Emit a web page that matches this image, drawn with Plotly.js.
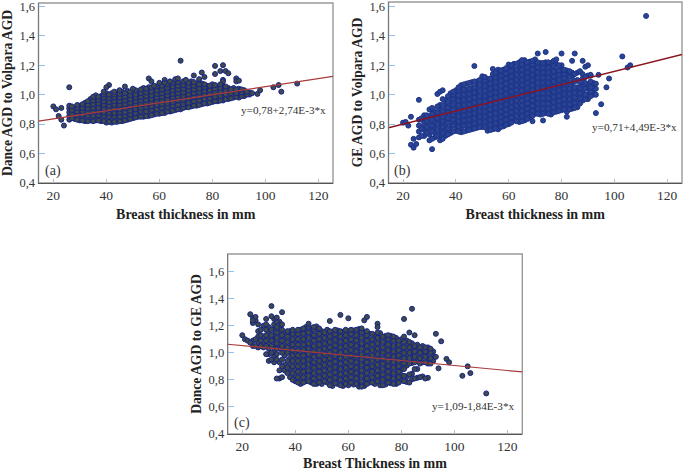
<!DOCTYPE html>
<html><head><meta charset="utf-8">
<script src="https://cdn.plot.ly/plotly-3.0.1.min.js"></script>
<style>html,body{margin:0;padding:0;background:#fff}#g{width:685px;height:471px}</style></head>
<body><div id="g"></div>
<script>
// Panel (a): Dance AGD to Volpara AGD, read as columns of thickness -> ratios
const a_thickness=[26,28,30,32,34,36,38,40,42,44,46,48,50,52,54,56,58,60,62,64,66,68,70,72,74,76,78,80,82,84,86,88,90,92,94];
const a_ratio=[
[.83,.855,.88,.905,.925],
[.835,.86,.885,.91],
[.825,.85,.875,.90,.925],
[.82,.845,.87,.895,.92,.945],
[.825,.85,.875,.90,.925,.95,.97],
[.825,.85,.875,.90,.925,.95,.975,.995],
[.82,.845,.87,.895,.92,.945,.97,.99],
[.81,.835,.86,.885,.91,.935,.96,.985,1.01],
[.81,.84,.865,.89,.915,.94,.965,.99,1.01],
[.815,.84,.865,.89,.915,.94,.965,.99,1.015],
[.82,.845,.87,.895,.92,.945,.97,.995,1.02],
[.83,.855,.88,.905,.93,.955,.98,1.005,1.025],
[.84,.865,.89,.915,.94,.965,.99,1.015],
[.85,.875,.90,.925,.95,.975,1.0,1.02],
[.85,.875,.90,.925,.95,.975,1.0,1.025,1.045],
[.855,.88,.905,.93,.955,.98,1.005,1.03,1.05],
[.865,.89,.915,.94,.965,.99,1.015,1.04],
[.87,.895,.92,.945,.97,.995,1.02,1.045,1.06],
[.875,.90,.925,.95,.975,1.0,1.025,1.05,1.07],
[.885,.91,.935,.96,.985,1.01,1.035,1.06,1.08],
[.895,.92,.945,.97,.995,1.02,1.045,1.07,1.085],
[.90,.925,.95,.975,1.0,1.025,1.05,1.075],
[.915,.94,.965,.99,1.015,1.04,1.065,1.085],
[.92,.945,.97,.995,1.02,1.045,1.07,1.09],
[.925,.95,.975,1.0,1.025,1.05,1.075],
[.935,.96,.985,1.01,1.035,1.06,1.075],
[.94,.965,.99,1.015,1.04,1.06],
[.95,.975,1.0,1.025,1.05,1.07],
[.955,.98,1.005,1.03,1.055],
[.96,.985,1.01,1.035,1.06],
[.97,.995,1.02,1.045],
[.98,1.0,1.025,1.045],
[.98,1.0,1.02,1.04],
[.99,1.01,1.03],
[1.0,1.015]];
const a_thickness_odd=[27,29,31,33,35,37,39,41,43,45,47,49,51,53,55,57,59,61,63,65,67,69,71,73,75,77,79,81,83,85,87,89,91,93];
const a_ratio_odd=[
[.84,.87,.895,.92],
[.83,.86,.885,.91,.93],
[.825,.86,.885,.91,.935],
[.82,.855,.88,.905,.93,.955],
[.82,.855,.885,.91,.935,.96,.985],
[.825,.86,.885,.91,.94,.965,.985],
[.82,.855,.88,.905,.93,.955,.98,1.0],
[.815,.85,.875,.90,.925,.95,.975,1.0],
[.815,.85,.875,.905,.93,.955,.98,1.0,1.02],
[.82,.85,.88,.90,.93,.955,.98,1.005,1.03],
[.825,.855,.88,.91,.935,.96,.985,1.01],
[.835,.865,.89,.92,.945,.97,.995,1.02],
[.845,.875,.90,.93,.955,.98,1.0,1.03],
[.85,.885,.91,.935,.96,.985,1.01,1.035],
[.855,.885,.915,.94,.965,.99,1.015,1.04],
[.86,.895,.92,.945,.97,.995,1.02,1.05],
[.87,.90,.93,.955,.98,1.005,1.03,1.055],
[.875,.91,.935,.96,.985,1.01,1.035,1.06],
[.885,.915,.94,.97,.995,1.02,1.045,1.07],
[.89,.925,.95,.98,1.005,1.03,1.055,1.08],
[.90,.93,.96,.985,1.01,1.035,1.06,1.085],
[.91,.935,.965,.99,1.015,1.04,1.065,1.09],
[.915,.945,.975,1.0,1.03,1.055,1.08],
[.925,.955,.985,1.01,1.035,1.06,1.085],
[.93,.96,.99,1.015,1.04,1.07],
[.94,.97,1.0,1.025,1.05,1.07],
[.945,.975,1.005,1.03,1.06],
[.955,.985,1.015,1.04,1.065],
[.96,.99,1.02,1.045],
[.97,1.0,1.03,1.055],
[.975,1.01,1.035],
[.985,1.01,1.035],
[.99,1.015,1.035],
[1.0,1.02]];
const a_out_x=[20,21,23,23,24,22,26,41,40,39,47,50,56,57,58,62,62,66,67,68,70,73,75,76,77,81,81,83,84,84,85,86,89,89,90,95,97,98,103,105,106,112,64,60,84,83];
const a_out_y=[.92,.90,.91,.83,.79,.855,1.05,1.065,1.05,1.02,1.055,1.04,1.11,1.09,1.06,1.10,1.08,1.105,1.11,1.23,1.10,1.13,1.105,1.15,1.12,1.195,1.14,1.16,1.20,1.10,1.16,1.145,1.11,1.09,1.095,1.01,1.005,1.03,1.05,1.065,1.02,1.075,1.09,1.08,1.09,1.07];
const a_fit=[0.78,0.00274];

// Panel (b): GE AGD to Volpara AGD
const b_thickness=[26,28,30,32,34,36,38,40,42,44,46,48,50,52,54,56,58,60,62,64,66,68,70,72,74,76,78,80,82,84,86,88,90,92];
const b_ratio=[
[.71,.75,.79,.83],
[.72,.76,.80,.84,.86],
[.69,.73,.77,.81,.85,.90],
[.71,.745,.78,.815,.85,.885],
[.69,.725,.76,.795,.83,.865,.90,.93],
[.72,.755,.79,.825,.86,.895,.93,.965],
[.74,.775,.81,.845,.88,.915,.95,.985,1.01],
[.755,.79,.825,.86,.895,.93,.965,1.0,1.03],
[.745,.78,.815,.85,.885,.92,.955,.99,1.025,1.065],
[.755,.79,.825,.86,.895,.93,.965,1.0,1.035,1.075],
[.765,.80,.835,.87,.905,.94,.975,1.01,1.045,1.085],
[.775,.81,.845,.88,.915,.95,.985,1.02,1.055,1.09],
[.78,.815,.85,.885,.92,.955,.99,1.025,1.06,1.095,1.125],
[.755,.79,.825,.86,.895,.93,.965,1.0,1.035,1.07,1.105],
[.765,.80,.835,.87,.905,.94,.975,1.01,1.045,1.08,1.115,1.14],
[.765,.80,.835,.87,.905,.94,.975,1.01,1.045,1.08,1.115,1.15,1.17],
[.785,.82,.855,.89,.925,.96,.995,1.03,1.065,1.10,1.135,1.17],
[.80,.835,.87,.905,.94,.975,1.01,1.045,1.08,1.115,1.15,1.185,1.205],
[.825,.86,.895,.93,.965,1.0,1.035,1.07,1.105,1.14,1.175,1.21],
[.815,.85,.885,.92,.955,.99,1.025,1.06,1.095,1.13,1.165,1.20,1.22],
[.825,.86,.895,.93,.965,1.0,1.035,1.07,1.105,1.14,1.175,1.21,1.235],
[.845,.88,.915,.95,.985,1.02,1.055,1.09,1.125,1.16,1.195,1.225],
[.87,.905,.94,.975,1.01,1.045,1.08,1.115,1.15,1.185,1.22,1.24],
[.865,.90,.935,.97,1.005,1.04,1.075,1.11,1.145,1.18,1.215],
[.875,.91,.945,.98,1.015,1.05,1.085,1.12,1.155,1.19,1.22],
[.865,.90,.935,.97,1.005,1.04,1.075,1.11,1.145,1.18,1.215],
[.885,.92,.955,.99,1.025,1.06,1.095,1.13,1.165,1.205],
[.895,.93,.965,1.0,1.035,1.07,1.105,1.14,1.17,1.20],
[.885,.92,.955,.99,1.025,1.06,1.09,1.135,1.165],
[.905,.94,.975,1.01,1.045,1.08,1.12,1.15],
[.915,.95,.985,1.02,1.05,1.10,1.15],
[.96,.995,1.03,1.06,1.11,1.14],
[.97,1.0,1.04,1.07,1.13],
[1.0,1.03,1.06,1.08]];
const b_thickness_odd=[27,29,31,33,35,37,39,41,43,45,47,49,51,53,55,57,59,61,63,65,67,69,71,73,75,77,79,81,83,85,87,89,91,93];
const b_ratio_odd=[
[.72,.77,.83],
[.74,.78,.82,.86],
[.70,.75,.79,.83,.87,.91],
[.72,.76,.80,.84,.88,.92],
[.70,.74,.78,.82,.85,.89,.93,.97],
[.73,.77,.81,.84,.88,.91,.95,.99],
[.75,.79,.83,.86,.90,.93,.97,1.0,1.02],
[.75,.785,.82,.855,.89,.925,.96,.995,1.03,1.05],
[.75,.79,.825,.86,.895,.93,.965,1.0,1.035,1.07],
[.76,.795,.83,.865,.90,.935,.97,1.005,1.04,1.08],
[.77,.805,.84,.875,.91,.945,.98,1.015,1.05,1.09],
[.78,.815,.85,.885,.92,.955,.99,1.025,1.06,1.10],
[.78,.815,.85,.885,.92,.955,.99,1.025,1.06,1.095,1.12],
[.76,.795,.83,.865,.90,.935,.97,1.005,1.04,1.075,1.11],
[.77,.805,.84,.875,.91,.945,.98,1.015,1.05,1.085,1.12,1.15],
[.78,.815,.85,.885,.92,.955,.99,1.025,1.06,1.095,1.13,1.165],
[.795,.83,.865,.90,.935,.97,1.005,1.04,1.075,1.11,1.145,1.18],
[.81,.845,.88,.915,.95,.985,1.02,1.055,1.09,1.125,1.16,1.20],
[.82,.855,.89,.925,.96,.995,1.03,1.065,1.10,1.135,1.17,1.21],
[.82,.855,.89,.925,.96,.995,1.03,1.065,1.10,1.135,1.17,1.205,1.235],
[.835,.87,.905,.94,.975,1.01,1.045,1.08,1.115,1.15,1.185,1.22],
[.855,.89,.925,.96,.995,1.03,1.065,1.10,1.135,1.17,1.205,1.23],
[.87,.905,.94,.975,1.01,1.045,1.08,1.115,1.15,1.185,1.22],
[.87,.905,.94,.975,1.01,1.045,1.08,1.115,1.15,1.185,1.215],
[.87,.905,.94,.975,1.01,1.045,1.08,1.115,1.15,1.185,1.22],
[.88,.915,.95,.985,1.02,1.055,1.09,1.125,1.16,1.195,1.23],
[.89,.925,.96,.995,1.03,1.065,1.10,1.135,1.165,1.20],
[.90,.935,.97,1.005,1.04,1.075,1.11,1.14,1.17],
[.90,.935,.97,1.005,1.04,1.08,1.12,1.16],
[.91,.945,.98,1.015,1.05,1.09,1.14],
[.94,.975,1.01,1.045,1.085,1.16],
[.97,1.0,1.04,1.08,1.12,1.19],
[.99,1.02,1.05,1.09,1.13],
[1.0,1.04,1.075]];
const b_out_x=[20,21,22,23,23,24,24,25,26,27,31,33,34,35,47,54,69,71,73,74,78,80,82,84,85,88,90,91,93,94,95,97,98,103,105,106,112];
const b_out_y=[.81,.815,.79,.85,.66,.64,.70,.665,.965,.84,.63,1.005,1.02,1.03,1.195,1.175,.82,1.28,.825,1.29,1.24,1.28,.85,1.23,1.28,1.23,1.20,1.135,.875,1.135,.935,1.05,1.11,1.26,1.185,1.20,1.535];
const b_fit=[0.71,0.00449];

// Panel (c): Dance AGD to GE AGD
const c_thickness=[24,26,28,30,32,34,36,38,40,42,44,46,48,50,52,54,56,58,60,62,64,66,68,70,72,74,76,78,80,82,84,86,88,90,92];
const c_ratio=[
[1.05,1.09,1.22,1.26],
[1.04,1.08,1.12,1.16,1.21],
[1.04,1.08,1.12,1.20],
[.94,.99,1.03,1.07,1.11,1.15,1.19],
[.93,.97,1.01,1.05,1.09,1.13,1.17,1.21,1.25],
[.81,.87,.93,1.03,1.07,1.11,1.15,1.19,1.23],
[.87,.91,.98,1.02,1.06,1.10,1.14],
[.82,.88,.92,.96,1.0,1.04,1.08,1.12,1.16],
[.79,.83,.87,.91,.95,.99,1.03,1.07,1.11,1.15],
[.77,.81,.85,.89,.93,.97,1.01,1.05,1.09,1.13,1.17],
[.79,.83,.87,.91,.95,.99,1.03,1.07,1.11,1.15,1.19],
[.78,.82,.86,.90,.94,.98,1.02,1.06,1.10,1.14,1.18],
[.77,.81,.85,.89,.93,.97,1.01,1.05,1.09,1.13,1.17,1.195],
[.77,.81,.85,.89,.93,.97,1.01,1.05,1.09,1.13,1.16],
[.78,.82,.86,.90,.94,.98,1.02,1.06,1.10,1.14,1.17],
[.755,.795,.835,.875,.915,.955,.995,1.035,1.075,1.115,1.155],
[.77,.81,.85,.89,.93,.97,1.01,1.05,1.09,1.13,1.165],
[.755,.795,.835,.875,.915,.955,.995,1.035,1.075,1.115,1.155],
[.76,.80,.84,.88,.92,.96,1.0,1.04,1.08,1.12,1.16],
[.765,.805,.845,.885,.925,.965,1.005,1.045,1.085,1.125,1.165],
[.75,.79,.83,.87,.91,.95,.99,1.03,1.07,1.11,1.15,1.175],
[.755,.795,.835,.875,.915,.955,.995,1.035,1.075,1.115,1.155],
[.78,.82,.86,.90,.94,.98,1.02,1.06,1.10,1.14],
[.77,.81,.85,.89,.93,.97,1.01,1.05,1.09,1.13],
[.76,.80,.84,.88,.92,.96,1.0,1.04,1.08,1.12,1.145],
[.765,.805,.845,.885,.925,.965,1.005,1.045,1.085,1.125],
[.775,.815,.855,.895,.935,.975,1.015,1.055,1.095,1.125],
[.77,.81,.85,.89,.93,.97,1.01,1.05,1.09,1.11],
[.795,.835,.875,.915,.955,.995,1.035,1.075,1.10],
[.785,.825,.905,.945,.985,1.025,1.065,1.09],
[.805,.845,.925,.965,1.005,1.045,1.07],
[.815,.88,.94,.98,1.02,1.06],
[.825,.93,.97,1.01,1.05],
[.815,.92,.96,1.0,1.04],
[.94,.98,1.01]];
const c_thickness_odd=[25,27,29,31,33,35,37,39,41,43,45,47,49,51,53,55,57,59,61,63,65,67,69,71,73,75,77,79,81,83,85,87,89,91];
const c_ratio_odd=[
[1.05,1.10,1.24],
[1.05,1.09,1.13,1.17],
[.99,1.05,1.09,1.13,1.17,1.21],
[.95,1.0,1.05,1.09,1.13,1.17,1.27],
[.81,.95,.99,1.03,1.07,1.11,1.15,1.19,1.23],
[.82,.90,.95,1.0,1.05,1.09,1.13,1.17,1.21],
[.85,.89,.94,1.0,1.04,1.08,1.12,1.16],
[.80,.85,.90,.94,.98,1.02,1.06,1.10,1.14,1.17],
[.78,.82,.86,.90,.94,.98,1.02,1.06,1.10,1.14,1.17],
[.78,.82,.86,.90,.94,.98,1.02,1.06,1.10,1.14,1.18],
[.79,.83,.87,.91,.95,.99,1.03,1.07,1.11,1.15,1.19],
[.77,.81,.85,.89,.93,.97,1.01,1.05,1.09,1.13,1.17,1.19],
[.78,.82,.86,.90,.94,.98,1.02,1.06,1.10,1.14,1.18],
[.79,.83,.87,.91,.95,.99,1.03,1.07,1.11,1.15],
[.76,.80,.84,.88,.92,.96,1.0,1.04,1.08,1.12,1.16],
[.775,.815,.855,.895,.935,.975,1.015,1.055,1.095,1.135,1.17],
[.76,.80,.84,.88,.92,.96,1.0,1.04,1.08,1.12,1.16],
[.77,.81,.85,.89,.93,.97,1.01,1.05,1.09,1.13,1.17],
[.78,.82,.86,.90,.94,.98,1.02,1.06,1.10,1.14,1.17],
[.77,.81,.85,.89,.93,.97,1.01,1.05,1.09,1.13,1.17],
[.75,.79,.83,.87,.91,.95,.99,1.03,1.07,1.11,1.15,1.18],
[.77,.81,.85,.89,.93,.97,1.01,1.05,1.09,1.13,1.16],
[.78,.82,.86,.90,.94,.98,1.02,1.06,1.10,1.14],
[.79,.83,.87,.91,.95,.99,1.03,1.07,1.11,1.15],
[.76,.80,.84,.88,.92,.96,1.0,1.04,1.08,1.12],
[.78,.82,.86,.90,.94,.98,1.02,1.06,1.10,1.13],
[.77,.81,.85,.89,.93,.97,1.01,1.05,1.09,1.12],
[.78,.82,.86,.90,.94,.98,1.02,1.06,1.09],
[.79,.83,.88,.92,.96,1.0,1.04,1.08,1.12],
[.78,.84,.92,.96,1.0,1.04,1.08],
[.81,.88,.93,.97,1.01,1.05],
[.82,.92,.96,1.0,1.04],
[.81,.93,.97,1.01,1.04],
[.92,.96,1.0,1.03]];
const c_out_x=[20,21,22,23,23,24,25,29,31,33,35,45,53,57,60,66,67,71,71,81,83,84,85,93,93,94,95,97,98,103,105,106,112];
const c_out_y=[1.13,1.10,1.09,1.075,1.285,1.24,1.265,1.25,1.345,1.26,1.30,1.215,1.235,1.28,1.255,1.24,1.265,1.215,1.19,1.25,1.15,1.325,1.13,1.14,.97,.885,1.085,.955,.93,.83,.90,.85,.70];
const c_fit=[1.09,-0.00184];

const x_ticks=[20,40,60,80,100,120];
const y_ticks=[0.4,0.6,0.8,1.0,1.2,1.4,1.6];
const W=685,H=471;
const serif='"Liberation Serif","DejaVu Serif",serif';

function flat(ths,cols,ths2,cols2,ox,oy){
  const x=[],y=[];
  ths.forEach((t,i)=>cols[i].forEach(v=>{x.push(t);y.push(v);}));
  ths2.forEach((t,i)=>cols2[i].forEach(v=>{x.push(t);y.push(v);}));
  ox.forEach((t,i)=>{x.push(t);y.push(oy[i]);});
  return {x,y};
}
function pts(d,ax,ay,fill,edge){
  return {type:'scatter',mode:'markers',x:d.x,y:d.y,xaxis:ax,yaxis:ay,showlegend:false,hoverinfo:'skip',
    marker:{size:5,color:fill,line:{color:edge,width:1}}};
}
function fitLine(f,range,ax,ay,c,w){
  return {type:'scatter',mode:'lines',x:range,y:range.map(v=>f[0]+f[1]*v),xaxis:ax,yaxis:ay,showlegend:false,hoverinfo:'skip',
    line:{color:c,width:w}};
}
const rA=[14.4,125.5],rB=[14.5,125.6],rC=[14.5,125.6];
const traces=[
 pts(flat(a_thickness,a_ratio,a_thickness_odd,a_ratio_odd,a_out_x,a_out_y),'x','y','#404a48','#16258a'),
 fitLine(a_fit,rA,'x','y','#a83a3a',1.2),
 pts(flat(b_thickness,b_ratio,b_thickness_odd,b_ratio_odd,b_out_x,b_out_y),'x2','y2','#2a4494','#1d3388'),
 fitLine(b_fit,rB,'x2','y2','#8a1420',1.5),
 pts(flat(c_thickness,c_ratio,c_thickness_odd,c_ratio_odd,c_out_x,c_out_y),'x3','y3','#404a48','#16258a'),
 fitLine(c_fit,rC,'x3','y3','#a83a3a',1.2)
];
function xa(l,r,range,anchor,title,standoff){
  return {domain:[l/W,r/W],range,anchor,tickvals:x_ticks,ticks:'inside',ticklen:4,tickcolor:'#bbbbbb',showgrid:false,zeroline:false,
    showline:true,linecolor:'#555',linewidth:1,tickfont:{family:serif,size:13.5,color:'#333'},ticklabeloverflow:'allow',
    title:{text:title,font:{family:serif,size:14,color:'#222',weight:'bold'},standoff}};
}
function ya(t,b,range,anchor,title,standoff){
  return {domain:[1-b/H,1-t/H],range,anchor,tickvals:y_ticks,tickformat:'.1f',ticks:'inside',ticklen:6,tickcolor:'#8fc0ee',showgrid:false,zeroline:false,
    showline:true,linecolor:'#777',linewidth:1,tickfont:{family:serif,size:12.5,color:'#333'},ticklabeloverflow:'allow',
    title:{text:title,font:{family:serif,size:13.6,color:'#222',weight:'bold'},standoff}};
}
function note(text,x,y,xr,yr,size){
  return {text,x,y,xref:xr,yref:yr,xanchor:'left',yanchor:'middle',showarrow:false,font:{family:serif,size,color:'#333'}};
}
function frame(xr,yr){
  return {type:'rect',xref:xr+' domain',yref:yr+' domain',x0:0,x1:1,y0:0,y1:1,line:{color:'#999',width:1.4},layer:'below'};
}
const layout={width:W,height:H,margin:{l:0,r:0,t:0,b:0},paper_bgcolor:'#fff',plot_bgcolor:'#fff',separators:',.',showlegend:false,
 xaxis:xa(38.5,333,[14.4,125.5],'y','Breast thickness in mm',6),
 yaxis:ya(3,183,[0.4,1.622],'x','Dance AGD to Volpara AGD',3),
 xaxis2:xa(388.5,682,[14.5,125.6],'y2','Breast thickness in mm',6),
 yaxis2:ya(2,183,[0.4,1.63],'x2','GE AGD to Volpara AGD',3),
 xaxis3:xa(227.7,522.3,[14.5,125.6],'y3','Breast Thickness in mm',7),
 yaxis3:ya(254,434,[0.4,1.73],'x3','Dance AGD to GE AGD',3),
 shapes:[frame('x','y'),frame('x2','y2'),frame('x3','y3')],
 annotations:[
  note('y=0,78+2,74E-3*x',90,.896,'x','y',11.2),
  note('(a)',16.1,.48,'x','y',14),
  note('y=0,71+4,49E-3*x',90.9,.779,'x2','y2',11.2),
  note('(b)',15.7,.48,'x2','y2',14),
  note('y=1,09-1,84E-3*x',90.8,.605,'x3','y3',11.2),
  note('(c)',16,.484,'x3','y3',14)
 ]};
Plotly.newPlot('g',traces,layout,{staticPlot:true,displayModeBar:false});
</script></body></html>
